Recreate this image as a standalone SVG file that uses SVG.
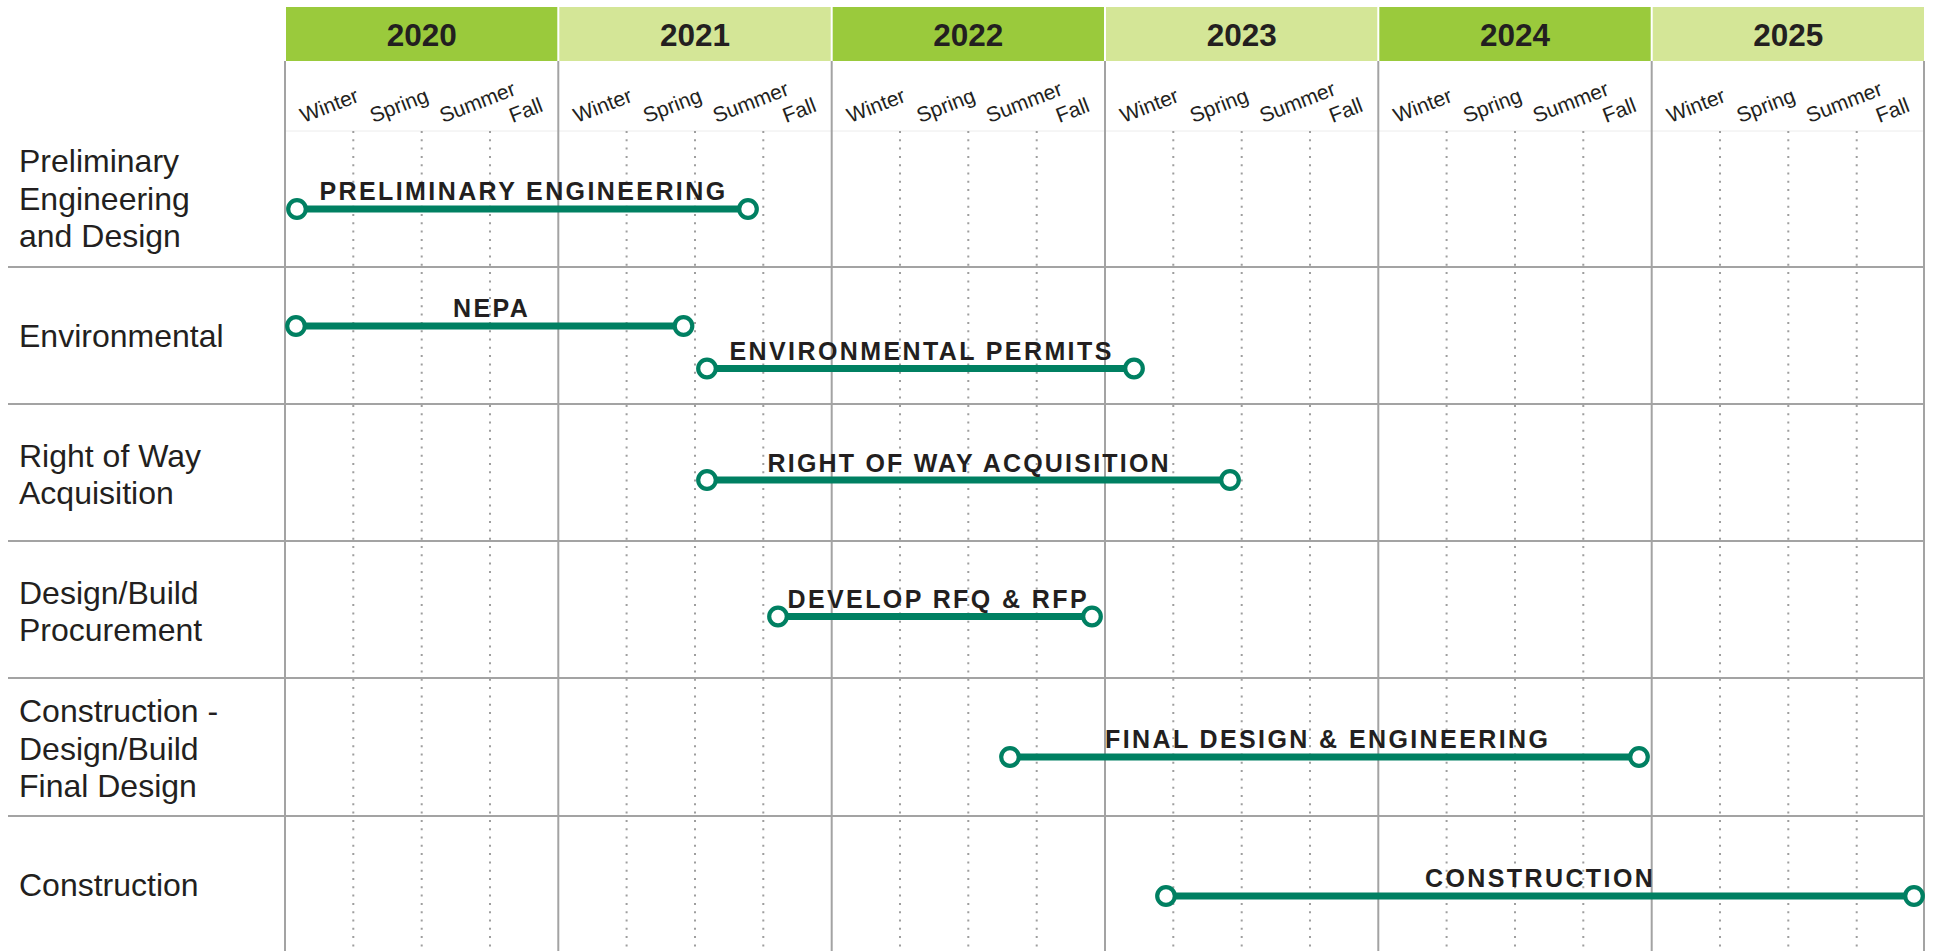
<svg xmlns="http://www.w3.org/2000/svg" width="1937" height="951" viewBox="0 0 1937 951">
<style>
.yr{font-family:"Liberation Sans",Arial,sans-serif;font-weight:bold;font-size:31.5px;fill:#231F20;text-anchor:middle}
.hd{fill:#9ACA3C}
.hl{fill:#D4E697}
.ss{font-family:"Liberation Sans",Arial,sans-serif;font-size:21px;fill:#231F20}
.rl{font-family:"Liberation Sans",Arial,sans-serif;font-size:32px;fill:#231F20}
.bl{font-family:"Liberation Sans",Arial,sans-serif;font-weight:bold;font-size:25px;letter-spacing:2.4px;fill:#231F20}
.bar{stroke:#008062;stroke-width:7;fill:none}
.end{fill:#fff;stroke:#008062;stroke-width:4.2}
.grid{stroke:#A3A3A3;stroke-width:2;fill:none}
.dot{stroke:#9E9E9E;stroke-width:2;stroke-dasharray:2 6.3;fill:none}
</style>
<rect width="1937" height="951" fill="#fff"/>
<g id="header">
<rect class="hd" x="286" y="7" width="271.3" height="54"/>
<rect class="hl" x="559.3" y="7" width="271.4" height="54"/>
<rect class="hd" x="832.7" y="7" width="271.3" height="54"/>
<rect class="hl" x="1106" y="7" width="271.3" height="54"/>
<rect class="hd" x="1379.3" y="7" width="271.4" height="54"/>
<rect class="hl" x="1652.7" y="7" width="271.3" height="54"/>
<text class="yr" x="421.7" y="46">2020</text>
<text class="yr" x="695" y="46">2021</text>
<text class="yr" x="968.3" y="46">2022</text>
<text class="yr" x="1241.7" y="46">2023</text>
<text class="yr" x="1515" y="46">2024</text>
<text class="yr" x="1788.3" y="46">2025</text>
</g>
<g id="seasons">
<text class="ss" transform="translate(303.5,123) rotate(-21)">Winter</text>
<text class="ss" transform="translate(373.2,123) rotate(-21)">Spring</text>
<text class="ss" transform="translate(442.9,123) rotate(-21)">Summer</text>
<text class="ss" transform="translate(512.6,123) rotate(-21)">Fall</text>
<text class="ss" transform="translate(576.8,123) rotate(-21)">Winter</text>
<text class="ss" transform="translate(646.5,123) rotate(-21)">Spring</text>
<text class="ss" transform="translate(716.2,123) rotate(-21)">Summer</text>
<text class="ss" transform="translate(785.9,123) rotate(-21)">Fall</text>
<text class="ss" transform="translate(850.2,123) rotate(-21)">Winter</text>
<text class="ss" transform="translate(919.9,123) rotate(-21)">Spring</text>
<text class="ss" transform="translate(989.6,123) rotate(-21)">Summer</text>
<text class="ss" transform="translate(1059.3,123) rotate(-21)">Fall</text>
<text class="ss" transform="translate(1123.5,123) rotate(-21)">Winter</text>
<text class="ss" transform="translate(1193.2,123) rotate(-21)">Spring</text>
<text class="ss" transform="translate(1262.9,123) rotate(-21)">Summer</text>
<text class="ss" transform="translate(1332.6,123) rotate(-21)">Fall</text>
<text class="ss" transform="translate(1396.8,123) rotate(-21)">Winter</text>
<text class="ss" transform="translate(1466.5,123) rotate(-21)">Spring</text>
<text class="ss" transform="translate(1536.2,123) rotate(-21)">Summer</text>
<text class="ss" transform="translate(1605.9,123) rotate(-21)">Fall</text>
<text class="ss" transform="translate(1670.2,123) rotate(-21)">Winter</text>
<text class="ss" transform="translate(1739.9,123) rotate(-21)">Spring</text>
<text class="ss" transform="translate(1809.6,123) rotate(-21)">Summer</text>
<text class="ss" transform="translate(1879.3,123) rotate(-21)">Fall</text>
</g>
<g id="grid">
<line x1="285" y1="131" x2="1925" y2="131" stroke="#ECECEC" stroke-width="1"/>
<path class="dot" d="M353.3 131V951M421.7 131V951M490 131V951M626.6 131V951M695 131V951M763.3 131V951M900 131V951M968.3 131V951M1036.7 131V951M1173.3 131V951M1241.7 131V951M1310 131V951M1446.6 131V951M1515 131V951M1583.3 131V951M1720 131V951M1788.3 131V951M1856.7 131V951"/>
<path class="grid" d="M285 61V951M558.3 61V951M831.7 61V951M1105 61V951M1378.3 61V951M1651.7 61V951M1924 61V951"/>
<path class="grid" d="M8 267H1925M8 404H1925M8 541H1925M8 678H1925M8 816H1925"/>
</g>
<g id="row-labels">
<g id="row-prelim"><text class="rl" x="19" y="172">Preliminary</text><text class="rl" x="19" y="209.5">Engineering</text><text class="rl" x="19" y="247">and Design</text></g>
<g id="row-env"><text class="rl" x="19" y="347">Environmental</text></g>
<g id="row-row"><text class="rl" x="19" y="466.5">Right of Way</text><text class="rl" x="19" y="504">Acquisition</text></g>
<g id="row-proc"><text class="rl" x="19" y="604">Design/Build</text><text class="rl" x="19" y="641">Procurement</text></g>
<g id="row-cdb"><text class="rl" x="19" y="722">Construction -</text><text class="rl" x="19" y="759.5">Design/Build</text><text class="rl" x="19" y="797">Final Design</text></g>
<g id="row-constr"><text class="rl" x="19" y="896">Construction</text></g>
</g>
<g id="connectors">
<line class="bar" x1="297" y1="209" x2="748" y2="209"/>
<line class="bar" x1="296" y1="326" x2="683.5" y2="326"/>
<line class="bar" x1="707" y1="368.5" x2="1134" y2="368.5"/>
<line class="bar" x1="707" y1="480" x2="1230" y2="480"/>
<line class="bar" x1="778" y1="616.5" x2="1092" y2="616.5"/>
<line class="bar" x1="1010" y1="757" x2="1639" y2="757"/>
<line class="bar" x1="1166" y1="896" x2="1914" y2="896"/>
</g>
<g id="task-prelim"><circle class="end" cx="297" cy="209" r="8.8"/><circle class="end" cx="748" cy="209" r="8.8"/><text class="bl" x="319.5" y="200">PRELIMINARY ENGINEERING</text></g>
<g id="task-nepa"><circle class="end" cx="296" cy="326" r="8.8"/><circle class="end" cx="683.5" cy="326" r="8.8"/><text class="bl" x="453" y="317">NEPA</text></g>
<g id="task-permits"><circle class="end" cx="707" cy="368.5" r="8.8"/><circle class="end" cx="1134" cy="368.5" r="8.8"/><text class="bl" x="729.5" y="359.5">ENVIRONMENTAL PERMITS</text></g>
<g id="task-row"><circle class="end" cx="707" cy="480" r="8.8"/><circle class="end" cx="1230" cy="480" r="8.8"/><text class="bl" x="767.5" y="471.5" style="letter-spacing:2.2px">RIGHT OF WAY ACQUISITION</text></g>
<g id="task-rfq"><circle class="end" cx="778" cy="616.5" r="8.8"/><circle class="end" cx="1092" cy="616.5" r="8.8"/><text class="bl" x="787.5" y="608">DEVELOP RFQ &amp; RFP</text></g>
<g id="task-final"><circle class="end" cx="1010" cy="757" r="8.8"/><circle class="end" cx="1639" cy="757" r="8.8"/><text class="bl" x="1105" y="748">FINAL DESIGN &amp; ENGINEERING</text></g>
<g id="task-constr"><circle class="end" cx="1166" cy="896" r="8.8"/><circle class="end" cx="1914" cy="896" r="8.8"/><text class="bl" x="1425" y="887">CONSTRUCTION</text></g>
</svg>
